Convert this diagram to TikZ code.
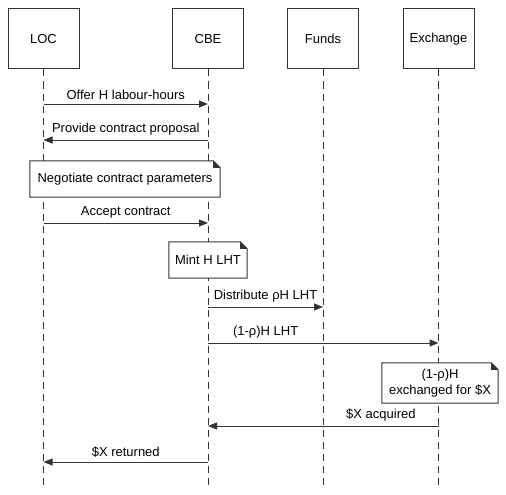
\documentclass[tikz,border=0pt]{standalone}
\usepackage{fontspec}
\setmainfont{Liberation Sans}
\usetikzlibrary{arrows.meta}
\definecolor{ink}{HTML}{333333}
\tikzset{
  txt/.style={font=\fontsize{13}{15.5}\selectfont},
  actor/.style={draw=ink, line width=1pt, fill=white, minimum width=71pt, minimum height=60pt, inner sep=0pt, txt},
  life/.style={draw=ink, line width=1pt, dash pattern=on 7pt off 5pt},
  msg/.style={draw=ink, line width=1pt, -{Triangle[length=9pt,width=7pt]}},
  lbl/.style={above, inner sep=4pt, txt},
  notebox/.style={fill=white, inner sep=0pt, align=center, txt},
  noteline/.style={draw=ink, line width=1pt, line join=miter}
}
\newcommand{\notefold}[1]{%
  \draw[noteline] (#1.north west) -- ([xshift=-7pt]#1.north east) -- ([yshift=-7pt]#1.north east) -- (#1.south east) -- (#1.south west) -- cycle;
  \fill[ink] ([xshift=-7pt]#1.north east) -- ([yshift=-7pt]#1.north east) -- ([xshift=-7pt,yshift=-7pt]#1.north east) -- cycle;
}
\begin{document}
\begin{tikzpicture}[x=1pt,y=-1pt]
\useasboundingbox (0,0) rectangle (506,495);
\node[actor] (LOC) at (43.5,39) {LOC};
\node[actor] (CBE) at (208,39) {CBE};
\node[actor] (Funds) at (323,39) {Funds};
\node[actor] (Exch) at (438.5,39) {Exchange};
\foreach \a in {LOC,CBE,Funds,Exch}{
  \draw[life] (\a.south) -- (\a.south |- 0,487);
}
\draw[msg] (LOC |- 0,104) -- node[lbl]{Offer H labour-hours} (CBE |- 0,104);
\draw[msg] (CBE |- 0,140) -- node[lbl]{Provide contract proposal} (LOC |- 0,140);
\node[notebox, minimum width=190pt, minimum height=36pt] (n1) at (125,179) {};
\notefold{n1}
\node[txt] (n1t) at (n1) {Negotiate contract parameters};
\draw[msg] (LOC |- 0,223) -- node[lbl]{Accept contract} (CBE |- 0,223);
\node[notebox, minimum width=78pt, minimum height=36pt] (n2) at (208,260) {};
\notefold{n2}
\node[txt] (n2t) at (n2) {Mint H LHT};
\draw[msg] (CBE |- 0,307) -- node[lbl]{Distribute ρH LHT} (Funds |- 0,307);
\draw[msg] (CBE |- 0,343) -- node[lbl, pos=0.25]{(1-ρ)H LHT} (Exch |- 0,343);
\node[notebox, minimum width=116pt, minimum height=40pt] (n3) at (440,383) {};
\notefold{n3}
\node[align=center, txt, inner sep=0pt] (n3t) at (n3) {(1-ρ)H\\exchanged for \$X};
\draw[msg] (Exch |- 0,426) -- node[lbl, pos=0.25]{\$X acquired} (CBE |- 0,426);
\draw[msg] (CBE |- 0,462) -- node[lbl]{\$X returned} (LOC |- 0,462);
\end{tikzpicture}
\end{document}
